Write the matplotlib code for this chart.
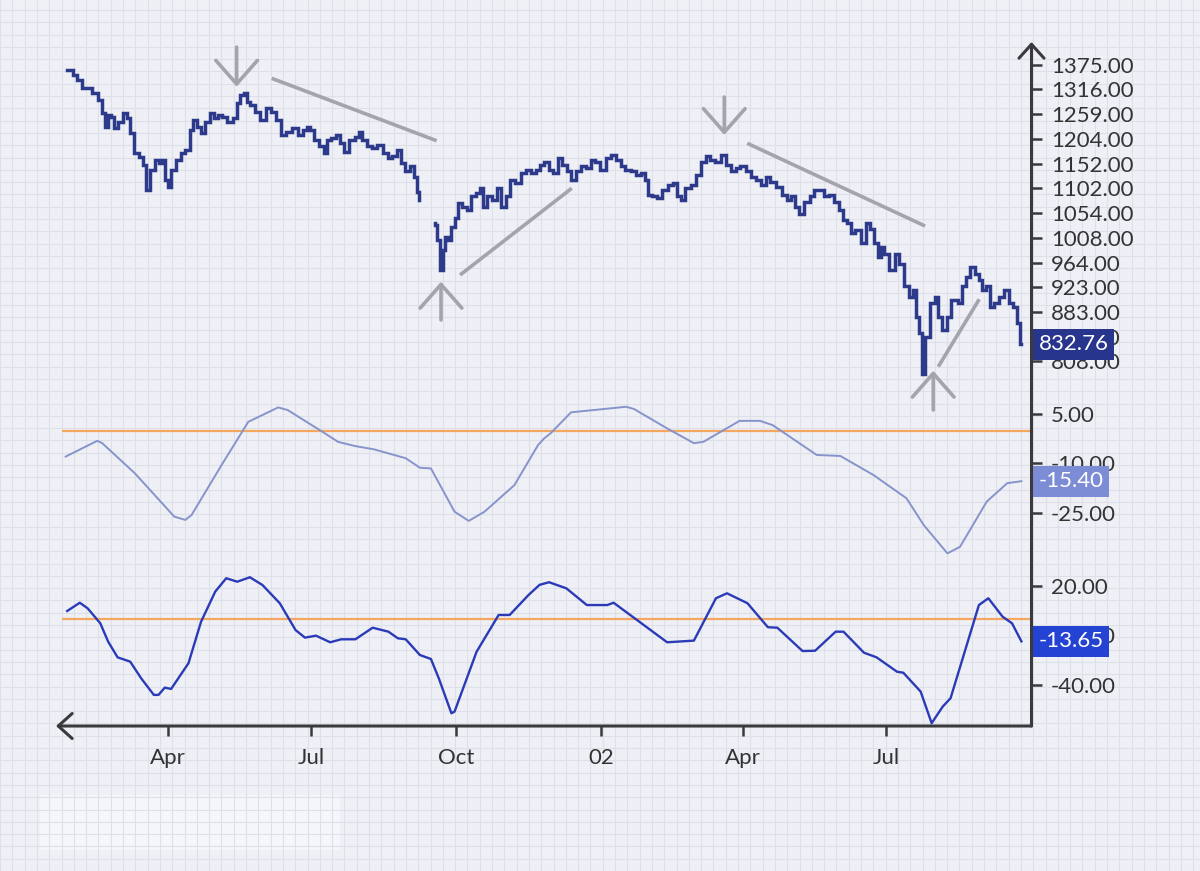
import numpy as np
import matplotlib
matplotlib.use("Agg")
import matplotlib.pyplot as plt
from matplotlib.ticker import FixedLocator, FixedFormatter, NullLocator
from matplotlib.patches import Rectangle

plt.rcParams['font.family'] = ['Lato', 'DejaVu Sans']

# ---------------- data (x = days since 2001-01-01) ----------------
BASE_DATE = np.datetime64('2001-01-01')

price_days = [26, 29, 31, 34, 37, 40, 44, 47, 49, 51,
              53, 55, 57, 60, 63, 65, 67, 70, 73, 75,
              77, 80, 83, 85, 87, 89, 91, 93, 97, 99,
              103, 105, 107, 110, 112, 115, 118, 120, 123, 126,
              129, 133, 135, 137, 139, 141, 143, 147, 150, 154,
              157, 160, 163, 167, 171, 174, 177, 179, 181, 184,
              188, 190, 192, 195, 198, 201, 203, 207, 210, 212,
              215, 218, 221, 225, 228, 231, 234, 237, 239, 242,
              245, 247, 249, 250, 259, 260, 262, 264, 265, 267,
              269, 271, 273, 275, 279, 281, 284, 287, 289, 291,
              294, 298, 300, 303, 306, 309, 312, 316, 319, 322,
              325, 327, 331, 333, 336, 339, 342, 345, 347, 351,
              354, 357, 360, 363, 366, 370, 373, 376, 379, 382,
              386, 389, 392, 394, 396, 399, 402, 406, 409, 412,
              415, 417, 420, 424, 427, 430, 433, 436, 439, 443,
              446, 449, 452, 455, 459, 462, 465, 468, 471, 474,
              478, 482, 484, 487, 490, 492, 496, 499, 502, 505,
              508, 511, 515, 517, 520, 523, 525, 528, 532, 535,
              537, 540, 542, 544, 546, 550, 553, 556, 559, 562,
              564, 566, 568, 570, 572, 576, 578, 580, 583, 586,
              588, 591, 593, 595, 598, 601, 604, 606, 608, 611,
              613, 616, 619, 623, 625, 628, 630, 632]
price_close = [1363, 1363, 1351, 1338, 1320, 1320, 1308, 1292, 1262, 1231,
               1257, 1253, 1228, 1242, 1262, 1251, 1217, 1174, 1166, 1149,
               1099, 1139, 1160, 1153, 1160, 1119, 1105, 1139, 1160, 1174,
               1180, 1224, 1246, 1231, 1217, 1242, 1262, 1251, 1257, 1253,
               1242, 1251, 1285, 1304, 1308, 1287, 1280, 1264, 1246, 1273,
               1264, 1246, 1213, 1219, 1228, 1213, 1224, 1231, 1224, 1202,
               1188, 1174, 1202, 1206, 1213, 1195, 1177, 1202, 1209, 1220,
               1202, 1188, 1184, 1191, 1174, 1163, 1167, 1180, 1153, 1136,
               1146, 1125, 1095, 1079, 1035, 1032, 1004, 951, 986, 1010,
               1004, 1028, 1044, 1073, 1066, 1060, 1086, 1092, 1102, 1066,
               1086, 1079, 1102, 1066, 1086, 1119, 1112, 1132, 1139, 1132,
               1139, 1149, 1156, 1139, 1132, 1163, 1149, 1136, 1119, 1136,
               1146, 1143, 1160, 1156, 1139, 1163, 1170, 1160, 1146, 1139,
               1136, 1129, 1132, 1119, 1089, 1086, 1082, 1099, 1109, 1112,
               1086, 1079, 1102, 1109, 1129, 1156, 1167, 1160, 1156, 1170,
               1149, 1136, 1143, 1146, 1136, 1125, 1119, 1109, 1125, 1115,
               1105, 1089, 1079, 1086, 1066, 1053, 1076, 1086, 1099, 1099,
               1086, 1089, 1076, 1060, 1041, 1035, 1016, 1022, 998, 1035,
               1025, 998, 974, 992, 980, 951, 980, 962, 924, 907,
               918, 875, 849, 790, 844, 896, 907, 875, 854, 875,
               902, 902, 896, 924, 939, 956, 945, 934, 918, 924,
               891, 896, 907, 918, 896, 891, 865, 832.76]

ind1_days = [25, 45, 48, 69, 94, 101, 105, 124, 141, 160,
             166, 188, 198, 209, 221, 241, 250, 257, 272, 281,
             291, 310, 325, 329, 333, 346, 381, 386, 407, 424,
             430, 453, 466, 474, 502, 517, 538, 559, 570, 585,
             593, 610, 623, 632]
ind1_values = [-7.9, -3.1, -3.7, -13.0, -26.2, -27.2, -25.7, -10.5, 2.7, 7.1,
               6.3, -0.3, -3.4, -4.7, -5.7, -8.4, -11.3, -11.5, -24.7, -27.5,
               -24.7, -16.6, -4.4, -2.3, -0.8, 5.6, 7.3, 6.6, 0.7, -3.8,
               -3.4, 3.0, 3.0, 1.7, -7.4, -7.7, -13.5, -20.6, -28.8, -37.4,
               -35.4, -21.6, -16.0, -15.40]

ind2_days = [26, 34, 39, 47, 52, 58, 66, 73, 81, 84,
             88, 92, 103, 111, 120, 127, 134, 142, 150, 161,
             171, 177, 184, 193, 200, 209, 220, 230, 236, 241,
             250, 257, 262, 270, 272, 286, 300, 307, 319, 326,
             332, 343, 356, 369, 373, 407, 424, 438, 445, 458,
             471, 477, 493, 501, 514, 519, 532, 540, 553, 557,
             568, 575, 582, 587, 605, 611, 620, 626, 632]
ind2_values = [4.7, 9.7, 6.3, -2.7, -13.8, -23.3, -25.9, -36.0, -46.0, -46.0,
               -41.6, -42.4, -26.9, -1.8, 16.4, 24.5, 22.4, 25.1, 20.4, 9.4,
               -6.8, -11.4, -10.2, -14.2, -12.4, -12.4, -5.4, -7.8, -11.8, -12.4,
               -21.9, -24.3, -36.0, -57.1, -56.1, -19.9, 2.3, 2.3, 14.4, 20.5,
               22.1, 18.4, 8.3, 8.3, 9.7, -14.2, -13.2, 12.4, 15.4, 9.4,
               -5.1, -5.4, -19.5, -19.3, -7.8, -7.8, -20.5, -23.3, -32.0, -32.6,
               -44.0, -63.1, -53.1, -48.0, 8.3, 12.4, 1.3, -2.7, -13.65]

price_ticks = [1375, 1316, 1259, 1204, 1152, 1102, 1054, 1008, 964, 923, 883, 844, 808]
ind1_ticks = [5, -10, -25]
ind2_ticks = [20, -10, -40]
x_tick_dates = ['2001-04-01', '2001-07-01', '2001-10-01', '2002-01-01', '2002-04-01', '2002-07-01']
x_tick_labels = ['Apr', 'Jul', 'Oct', '02', 'Apr', 'Jul']

last_price = 832.76
last_ind1 = -15.40
last_ind2 = -13.65

# annotations: (day, price)
trend_lines = [((155.9, 1342.6), (260.6, 1200.2)),
               ((275.5, 943.0), (346.4, 1101.9)),
               ((457.9, 1194.7), (570.8, 1029.7)),
               ((579.2, 799.8), (605.2, 902.7))]
marker_arrows = [(133.6, 1420.0, 1322.5),   # (day, tail price, tip price)
                 (263.4, 869.8, 931.7),
                 (443.3, 1298.3, 1212.6),
                 (576.0, 739.9, 794.0)]

# ---------------- styling ----------------
W, H = 1200, 871
BG = '#eef0f5'
GRID = '#dde0e8'
AXIS_C = '#3a3a3c'
TEXT_C = '#333333'
PRICE_C = '#2d3a8c'
IND1_C = '#8793cb'
IND2_C = '#2b3bb8'
ORANGE = '#f5a661'
GRAY = '#a2a5ab'
FS = 16

fig = plt.figure(figsize=(W / 100, H / 100), dpi=100)
fig.patch.set_facecolor(BG)

# graph-paper background
bg = fig.add_axes([0, 0, 1, 1], zorder=-10)
bg.set_xlim(0, W)
bg.set_ylim(0, H)
bg.axis('off')
gx = np.arange(0, W, 12.3)
gy = np.arange(0, H, 12.3)
bg.vlines(gx, 0, H, color=GRID, lw=0.8)
bg.hlines(gy, 0, W, color=GRID, lw=0.8)
bg.add_patch(Rectangle((40, H - 850), 300, 55, fc='white', ec='none', alpha=0.45))


def px_axes(x0, x1, ytop, ybot):
    return fig.add_axes([x0 / W, 1 - ybot / H, (x1 - x0) / W, (ybot - ytop) / H])


X0, X1 = 62, 1031.5
ax_p = px_axes(X0, X1, 40, 400)
ax_1 = px_axes(X0, X1, 400, 565)
ax_2 = px_axes(X0, X1, 565, 726)

xlim = (22.7, 638.4)
for ax in (ax_p, ax_1, ax_2):
    ax.set_facecolor('none')
    for s in ax.spines.values():
        s.set_visible(False)
    ax.set_xlim(*xlim)
    ax.tick_params(axis='y', which='both', left=False, labelleft=False,
                   right=True, labelright=True, direction='out', length=7,
                   width=1.8, color=AXIS_C, labelsize=FS, labelcolor=TEXT_C, pad=7)
    ax.tick_params(axis='x', which='both', bottom=False, labelbottom=False)

# ---- price panel ----
pd_ = np.array(price_days, dtype=float)
pc_ = np.array(price_close, dtype=float)
gap = np.where(np.diff(pd_) > 5)[0]
px_ = np.insert(pd_, gap + 1, np.nan)
py_ = np.insert(pc_, gap + 1, np.nan)
ax_p.plot(px_, py_, drawstyle='steps-mid', color=PRICE_C, lw=2.5, solid_joinstyle='miter')
ax_p.set_yscale('log')
ax_p.set_ylim(753.3, 1438.3)
ax_p.yaxis.set_major_locator(FixedLocator(price_ticks))
ax_p.yaxis.set_major_formatter(FixedFormatter([f'{v:.2f}' for v in price_ticks]))
ax_p.yaxis.set_minor_locator(NullLocator())

for (d0, p0), (d1, p1) in trend_lines:
    ax_p.plot([d0, d1], [p0, p1], color=GRAY, lw=2.6, solid_capstyle='butt', zorder=4)
for d, tail, tip in marker_arrows:
    ax_p.annotate('', xy=(d, tip), xytext=(d, tail), annotation_clip=False,
                  arrowprops=dict(arrowstyle='->,head_length=0.85,head_width=0.75',
                                  color=GRAY, lw=2.6, shrinkA=0, shrinkB=0,
                                  mutation_scale=20), zorder=4)

# ---- indicator 1 ----
ax_1.plot(ind1_days, ind1_values, color=IND1_C, lw=1.4)
ax_1.axhline(0, color=ORANGE, lw=1.6, zorder=1)
ax_1.set_ylim(-40.95, 9.36)
ax_1.yaxis.set_major_locator(FixedLocator(ind1_ticks))
ax_1.yaxis.set_major_formatter(FixedFormatter([f'{v:.2f}' for v in ind1_ticks]))

# ---- indicator 2 ----
ax_2.plot(ind2_days, ind2_values, color=IND2_C, lw=1.7)
ax_2.axhline(0, color=ORANGE, lw=1.6, zorder=1)
ax_2.set_ylim(-64.8, 32.5)
ax_2.yaxis.set_major_locator(FixedLocator(ind2_ticks))
ax_2.yaxis.set_major_formatter(FixedFormatter([f'{v:.2f}' for v in ind2_ticks]))

xt = [(np.datetime64(d) - BASE_DATE).astype(int) for d in x_tick_dates]
ax_2.xaxis.set_major_locator(FixedLocator(xt))
ax_2.xaxis.set_major_formatter(FixedFormatter(x_tick_labels))
ax_2.tick_params(axis='x', bottom=True, labelbottom=True, direction='out', length=7,
                 width=1.8, color=AXIS_C, labelsize=FS, labelcolor=TEXT_C, pad=9)

# ---- last-value labels ----
for ax, val, col in ((ax_p, last_price, '#27368c'), (ax_1, last_ind1, '#7c8dd5'),
                     (ax_2, last_ind2, '#2443d2')):
    ax.annotate(f'{val:.2f}', xy=(1, val), xycoords=('axes fraction', 'data'),
                xytext=(5, 0), textcoords='offset points', ha='left', va='center',
                color='white', fontsize=FS, annotation_clip=False, zorder=10,
                bbox=dict(boxstyle='square,pad=0.25', fc=col, ec='none'))

# ---- axis lines with open arrow heads ----
ov = fig.add_axes([0, 0, 1, 1], zorder=20)
ov.set_xlim(0, W)
ov.set_ylim(0, H)
ov.axis('off')
ov.patch.set_alpha(0)
corner = (X1, H - 726)
ov.annotate('', xy=(X1, H - 42), xytext=corner,
            arrowprops=dict(arrowstyle='->,head_length=0.5,head_width=0.45', color=AXIS_C,
                            lw=2.2, shrinkA=0, shrinkB=0, mutation_scale=20))
ov.annotate('', xy=(56, H - 726), xytext=corner,
            arrowprops=dict(arrowstyle='->,head_length=0.5,head_width=0.45', color=AXIS_C,
                            lw=2.2, shrinkA=0, shrinkB=0, mutation_scale=20))

fig.savefig('out.png', dpi=100, facecolor=BG)
